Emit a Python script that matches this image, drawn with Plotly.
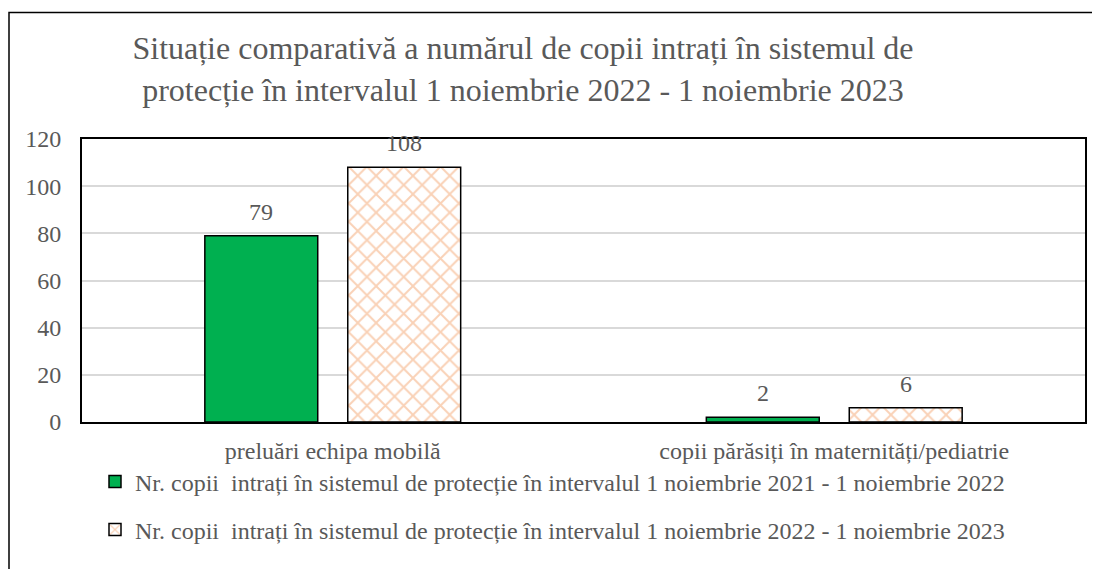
import plotly.graph_objects as go

categories = ["preluări echipa mobilă", "copii părăsiți în maternități/pediatrie"]
series_2022 = [79, 2]
series_2023 = [108, 6]
name_2022 = "Nr. copii  intrați în sistemul de protecție în intervalul 1 noiembrie 2021 - 1 noiembrie 2022"
name_2023 = "Nr. copii  intrați în sistemul de protecție în intervalul 1 noiembrie 2022 - 1 noiembrie 2023"
title_text = "Situație comparativă a numărul de copii intrați în sistemul de<br>protecție în intervalul 1 noiembrie 2022 - 1 noiembrie 2023"
y_ticks = [0, 20, 40, 60, 80, 100, 120]

FONT = "Liberation Serif, Times New Roman, serif"
GRAY = "#595959"

# page body has an 8px margin; figure coordinates = page coordinates - 8
W, H = 1092, 561
L, R, T, B = 74, 15, 131, 147
pw, ph = W - L - R, H - T - B
BARGAP, BARGROUPGAP = 0.43, 0.21

def px2x(p):
    return (p - L) / pw

def py2y(p):
    return (H - B - p) / ph

fig = go.Figure()
fig.add_trace(go.Bar(
    x=categories, y=series_2022, name=name_2022,
    marker=dict(color="#00B050", line=dict(color="black", width=1.5)),
    cliponaxis=False, legend="legend",
))
fig.add_trace(go.Bar(
    x=categories, y=series_2023, name=name_2023,
    marker=dict(color="white", line=dict(color="black", width=1.5),
                pattern=dict(shape="x", fgcolor="#F4A46E", bgcolor="white", size=13, solidity=0.28)),
    cliponaxis=False, legend="legend2",
))

# value labels, placed at each bar's value with the group offset of its series
cat_px = pw / len(categories)
slot_px = cat_px * (1 - BARGAP) / 2
for k, vals in enumerate([series_2022, series_2023]):
    shift = (k - 0.5) * slot_px
    for c, v in zip(categories, vals):
        fig.add_annotation(x=c, y=v, xref="x", yref="y", text=str(v), showarrow=False,
                           xshift=shift, yshift=24, yanchor="middle",
                           font=dict(family=FONT, size=24, color=GRAY))

fig.add_shape(type="rect", xref="paper", yref="paper",
              x0=px2x(1), x1=px2x(1110), y0=py2y(600), y1=py2y(4.5),
              line=dict(color="black", width=1.5), fillcolor="rgba(0,0,0,0)", layer="above")

legend_common = dict(
    xanchor="left", yanchor="middle", bgcolor="rgba(0,0,0,0)",
    font=dict(family=FONT, size=24, color=GRAY), itemclick=False,
)

fig.update_layout(
    width=W, height=H, showlegend=True,
    margin=dict(l=L, r=R, t=T, b=B, pad=0),
    paper_bgcolor="white", plot_bgcolor="white",
    barmode="group", bargap=BARGAP, bargroupgap=BARGROUPGAP,
    title=dict(text=title_text, x=515 / W, xanchor="center", y=1 - 51 / H, yanchor="middle",
               font=dict(family=FONT, size=32, color=GRAY)),
    font=dict(family=FONT, color=GRAY),
    xaxis=dict(showline=True, linecolor="black", linewidth=2, mirror=True, ticks="",
               tickfont=dict(family=FONT, size=24, color=GRAY), showgrid=False,
               ticklabelstandoff=6),
    yaxis=dict(range=[0, 120], tickvals=y_ticks, showline=True, linecolor="black", linewidth=2,
               mirror=True, gridcolor="#D9D9D9", gridwidth=1.5, zeroline=False,
               tickfont=dict(family=FONT, size=24, color=GRAY), ticks="", ticklabelstandoff=14),
    legend=dict(x=px2x(87), y=py2y(474), **legend_common),
    legend2=dict(x=px2x(87), y=py2y(522), **legend_common),
)

fig.write_html("out.html")
